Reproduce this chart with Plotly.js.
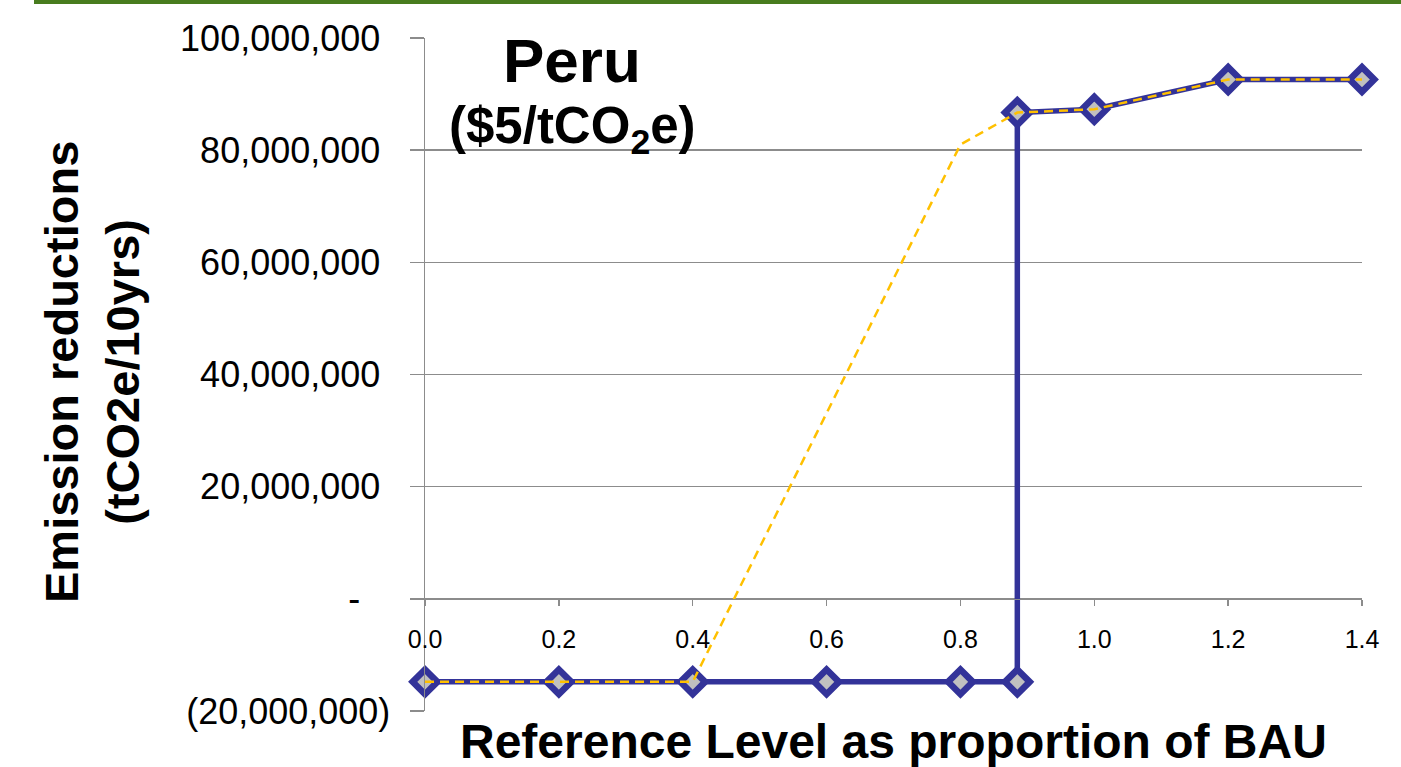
<!DOCTYPE html>
<html>
<head>
<meta charset="utf-8">
<script src="https://cdn.plot.ly/plotly-3.0.1.min.js"></script>
<style>
  html, body { margin: 0; padding: 0; background: #ffffff; }
  #chart { width: 1401px; height: 767px; }
</style>
</head>
<body>
<div id="chart"></div>
<script>
// Reference level (share of BAU) against emission reductions over ten years
const refLevel = [0.0, 0.2, 0.4, 0.6, 0.8, 0.885, 0.885, 1.0, 1.2, 1.4];
const reductions = [-14800000, -14800000, -14800000, -14800000, -14800000, -14800000,
                    86700000, 87300000, 92600000, 92600000];

// Trend line drawn dashed over the stepped series
const trendLevel = [0.0, 0.2, 0.4, 0.8, 0.885, 1.0, 1.2, 1.4];
const trendReductions = [-14800000, -14800000, -14800000, 81000000, 86700000,
                         87300000, 92600000, 92600000];

const yTickVals = [-20000000, 0, 20000000, 40000000, 60000000, 80000000, 100000000];
const yTickText = ['(20,000,000)', '-\u00a0\u00a0\u00a0', '20,000,000\u00a0', '40,000,000\u00a0',
                   '60,000,000\u00a0', '80,000,000\u00a0', '100,000,000\u00a0'];
const xTickVals = [0.0, 0.2, 0.4, 0.6, 0.8, 1.0, 1.2, 1.4];

const chartTitle = '<b>Peru</b>';
const chartSubtitle = '<b>($5/tCO<sub>2</sub>e)</b>';
const yTitle = '<b>Emission reductions<br>(tCO2e/10yrs)</b>';
const xTitle = '<b>Reference Level as proportion of BAU</b>';

const FONT = '"Liberation Sans", Arial, sans-serif';
const GRID = '#8c8c8c';

const plotLeft = 425, plotRight = 39, plotTop = 38, plotBottom = 56;
const W = 1401, H = 767;
const pw = W - plotLeft - plotRight, ph = H - plotTop - plotBottom;
const px = v => (v - plotLeft) / pw;
const py = v => (H - plotBottom - v) / ph;

const traces = [
  {
    x: refLevel, y: reductions, type: 'scatter', mode: 'lines+markers',
    line: { color: '#333399', width: 5.5 },
    marker: { symbol: 'diamond', size: 19, color: '#c0c0c0',
              line: { color: '#333399', width: 6.5 } },
    cliponaxis: false, hoverinfo: 'x+y'
  },
  {
    x: trendLevel, y: trendReductions, type: 'scatter', mode: 'lines',
    line: { color: '#ffc000', width: 2.5, dash: '9px,6px' },
    cliponaxis: false, hoverinfo: 'x+y'
  }
];

const layout = {
  width: W, height: H,
  margin: { l: plotLeft, r: plotRight, t: plotTop, b: plotBottom, pad: 0 },
  paper_bgcolor: '#ffffff', plot_bgcolor: '#ffffff',
  showlegend: false,
  font: { family: FONT, color: '#000000' },
  xaxis: {
    range: [0, 1.4],
    anchor: 'free', position: 20 / 120,
    tickmode: 'array', tickvals: xTickVals, tickformat: '.1f',
    ticks: 'outside', ticklen: 6, tickwidth: 1.5, tickcolor: GRID,
    tickfont: { family: FONT, size: 25, color: '#000000' },
    ticklabelstandoff: 12,
    showgrid: false, zeroline: false,
    showline: true, linecolor: GRID, linewidth: 1.5
  },
  yaxis: {
    range: [-20000000, 100000000],
    tickmode: 'array', tickvals: yTickVals, ticktext: yTickText,
    ticks: 'outside', ticklen: 14, tickwidth: 1.5, tickcolor: GRID,
    tickfont: { family: FONT, size: 36, color: '#000000' },
    ticklabelstandoff: 12,
    showgrid: true, gridcolor: GRID, gridwidth: 1.5,
    zeroline: false,
    showline: true, linecolor: GRID, linewidth: 1.5
  },
  shapes: [
    { type: 'rect', xref: 'paper', yref: 'paper', layer: 'above',
      x0: px(34), x1: px(1401), y0: py(4), y1: py(0),
      fillcolor: '#487c1e', line: { width: 0 } }
  ],
  annotations: [
    { text: chartTitle, xref: 'paper', yref: 'paper', x: px(572), y: py(61),
      xanchor: 'center', yanchor: 'middle', showarrow: false,
      font: { family: FONT, size: 62, color: '#000000' } },
    { text: chartSubtitle, xref: 'paper', yref: 'paper', x: px(572), y: py(130),
      xanchor: 'center', yanchor: 'middle', showarrow: false,
      font: { family: FONT, size: 51, color: '#000000' } },
    { text: yTitle, xref: 'paper', yref: 'paper', x: px(92), y: py(372),
      xanchor: 'center', yanchor: 'middle', textangle: -90, showarrow: false,
      font: { family: FONT, size: 47, color: '#000000' } },
    { text: xTitle, xref: 'paper', yref: 'paper', x: px(893), y: py(741),
      xanchor: 'center', yanchor: 'middle', showarrow: false,
      font: { family: FONT, size: 48, color: '#000000' } }
  ]
};

Plotly.newPlot('chart', traces, layout, { displayModeBar: false, staticPlot: true });
</script>
</body>
</html>
